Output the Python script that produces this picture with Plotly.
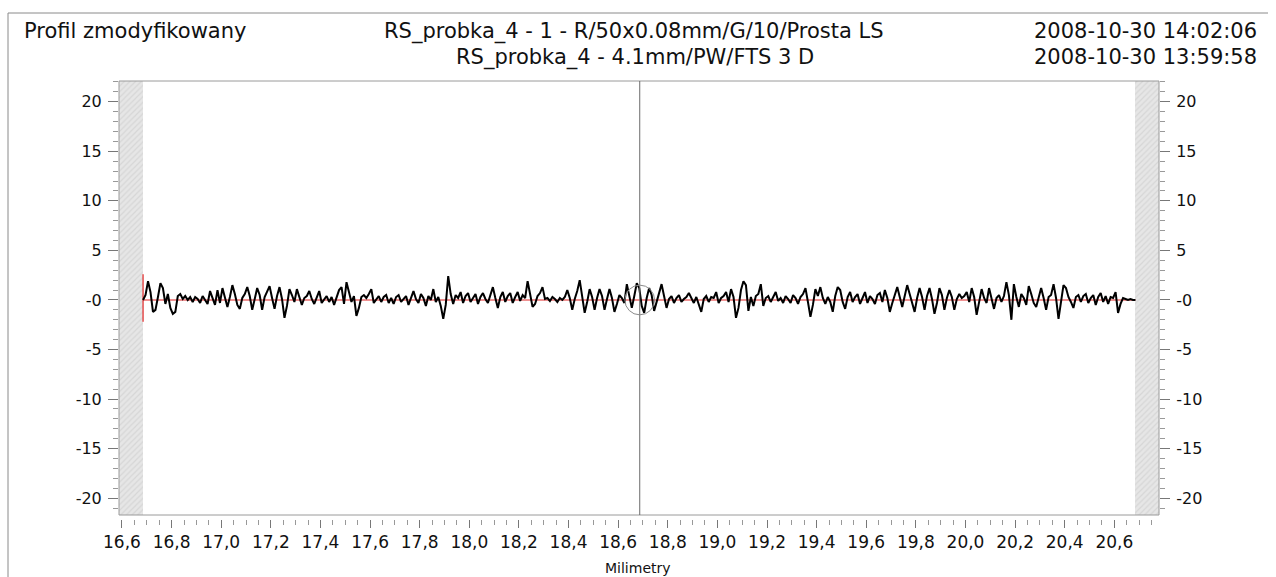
import plotly.graph_objects as go

# ---------------- data ----------------
X_START = 16.685          # mm, first profile sample
X_STEP = 0.01             # mm, sampling step
PROFILE = [
    0.0, 0.5, 1.9, 0.8, -1.2, -1.0, 0.3, 1.7, 1.2, -0.4,
    0.6, -0.8, -1.4, -1.2, 0.4, 0.6, 0.1, 0.4, 0.0, 0.3,
    -0.2, 0.3, 0.1, -0.3, 0.4, 0.0, -0.4, 0.9, 0.2, -0.5,
    1.0, -0.3, 1.2, 0.2, -0.7, 0.3, 1.5, 0.6, -0.5, -0.9,
    0.2, 0.6, 1.3, 0.4, -1.0, 0.1, 1.2, 0.5, -1.0, 0.3,
    0.8, 1.4, 0.2, -0.9, 0.4, 1.3, 0.1, -1.8, -0.6, 1.1,
    0.5, -0.2, 1.1, 0.3, -0.5, 0.2, 0.4, 0.9, 0.1, -0.4,
    0.3, 0.9, -0.3, 0.1, 0.4, -0.2, 0.3, -0.5, 0.2, 1.0,
    1.3, -0.4, 1.8, 0.9, -0.2, 0.4, -1.6, -0.8, 0.3, 0.5,
    0.2, 0.6, 1.1, -0.3, 0.1, 0.4, -0.2, 0.3, 0.5, -0.3,
    0.2, -0.4, 0.3, 0.5, -0.2, 0.1, 0.4, -0.5, 0.3, 0.9,
    0.1, -0.3, 0.6, 0.2, -0.6, 0.4, 0.0, 1.1, -0.2, 0.3,
    -0.6, -1.9, -0.5, 2.4, 0.6, -0.4, 0.5, 0.2, 0.8, -0.3,
    0.4, 0.7, -0.2, 0.2, 0.6, -0.4, 0.3, 0.7, 0.1, -0.3,
    0.5, 1.3, 0.2, -0.8, 0.3, 0.8, -0.2, 0.4, 0.7, -0.3,
    0.3, 0.8, -0.1, 0.5, 0.2, 1.9, 0.6, -0.7, -0.4, 0.4,
    0.7, 1.3, 0.1, 0.2, -0.1, 0.3, 0.1, -0.2, 0.2, 0.0,
    0.3, 1.0, 0.2, -1.0, 0.1, 0.9, 2.0, 0.4, -1.3, -0.2,
    1.1, 0.3, -1.0, 0.2, 1.1, 0.4, -1.0, 0.1, 1.1, 0.2,
    -1.2, -0.4, 0.5, 0.2, -0.3, 1.6, 0.5, -0.8, 0.4, 1.7,
    1.2, -0.6, -1.3, 0.2, 1.2, 0.5, -1.1, -0.2, 0.6, 1.6,
    0.4, -0.8, 0.1, 0.4, -0.3, 0.2, 0.5, -0.2, 0.1, 0.3,
    0.7, 0.2, -0.3, 0.3, -0.4, -1.2, 0.1, 0.4, -0.2, 0.3,
    0.2, 0.8, -0.3, 0.2, 0.4, 0.8, -0.2, 1.1, 0.3, -1.8,
    -0.8, 1.0, 1.9, 1.5, -1.1, 0.3, -0.6, 0.4, 0.6, 1.6,
    -0.6, 0.2, 0.4, -0.2, 0.3, 0.8, -0.1, 0.2, -0.3, 0.4,
    0.1, -0.3, 0.5, 0.2, -0.4, 0.3, 0.6, 1.2, -0.2, -1.7,
    -0.5, 1.1, 0.4, 1.3, 0.2, -0.4, 0.3, -0.2, -1.2, 0.4,
    1.3, 1.0, -0.2, -0.9, 0.3, 0.8, -0.2, 0.3, 0.6, -0.4,
    0.2, 0.8, -0.3, 0.4, 0.1, -0.4, 0.5, 0.7, -0.2, 1.0,
    0.2, -1.2, -0.3, 0.5, 1.3, 0.3, -0.7, 0.4, 1.5, 0.6,
    -0.4, -1.2, 0.2, 1.2, 0.3, -1.0, 0.4, 1.2, 0.1, -1.4,
    -0.3, 1.2, 0.5, -1.0, 0.2, 1.0, 0.3, -1.0, 0.1, 0.6,
    0.2, 0.4, 0.8, -0.2, 1.2, 0.3, -1.5, -0.3, 1.1, 0.2,
    -0.3, 1.2, 0.1, -0.9, 0.2, 0.5, -0.2, 0.4, 1.8, 0.5,
    -2.0, 1.6, 0.3, -0.7, 0.6, 0.2, -0.5, 1.4, 0.6, -0.3,
    -0.7, 0.4, 1.2, 0.2, -1.0, 0.3, 0.5, 1.6, 0.2, -1.9,
    -0.4, 1.5, 1.2, 0.3, -0.2, -0.8, 0.3, 0.5, -0.2, 0.4,
    0.6, -0.3, 0.2, 0.5, -0.5, 0.3, 0.7, -0.2, 0.4, -0.4,
    0.3, 0.2, 0.8, -1.3, -0.4, 0.2, 0.1, 0.0, 0.1, 0.0,
    0.0,
]
START_MARK = [-2.2, 2.6]   # red start marker extent
CURSOR_X = 18.687          # vertical cursor position (mm)

X_TICKS = [16.6, 16.8, 17.0, 17.2, 17.4, 17.6, 17.8, 18.0, 18.2, 18.4, 18.6,
           18.8, 19.0, 19.2, 19.4, 19.6, 19.8, 20.0, 20.2, 20.4, 20.6]
X_TICK_LABELS = ["16,6", "16,8", "17,0", "17,2", "17,4", "17,6", "17,8", "18,0",
                 "18,2", "18,4", "18,6", "18,8", "19,0", "19,2", "19,4", "19,6",
                 "19,8", "20,0", "20,2", "20,4", "20,6"]
Y_TICKS = [-20, -15, -10, -5, 0, 5, 10, 15, 20]
Y_TICK_LABELS = ["-20", "-15", "-10", "-5", "-0", "5", "10", "15", "20"]
X_RANGE = [16.588, 20.78]
Y_RANGE = [-21.7, 22.1]

TITLE_LEFT = "Profil zmodyfikowany"
TITLE_LINES = ["RS_probka_4 - 1 - R/50x0.08mm/G/10/Prosta LS",
               "RS_probka_4 - 4.1mm/PW/FTS 3 D"]
DATE_LINES = ["2008-10-30 14:02:06", "2008-10-30 13:59:58"]
X_TITLE = "Milimetry"

# ---------------- layout geometry (pixels) ----------------
W, H = 1276, 577
PL, PR, PT, PB = 119, 1159, 81, 519   # paper area
FRAME_BOTTOM = 515

def px_x(px):
    return (px - PL) / (PR - PL)

def px_y(py):
    return (PB - py) / (PB - PT)

FONT = "DejaVu Sans, Liberation Sans, Arial, sans-serif"
TXT = "#111111"

xs = [round(X_START + i * X_STEP, 4) for i in range(len(PROFILE))]

fig = go.Figure()

# hatched end zones
left_w = xs[0] - X_RANGE[0]
right_w = X_RANGE[1] - xs[-1]
fig.add_trace(go.Bar(
    x=[X_RANGE[0] + left_w / 2, xs[-1] + right_w / 2],
    y=[Y_RANGE[1] - Y_RANGE[0]] * 2,
    base=[Y_RANGE[0]] * 2,
    width=[left_w, right_w],
    marker=dict(color="#e4e4e4", line=dict(width=0),
                pattern=dict(shape="/", fgcolor="#c6c6c6", bgcolor="#e6e6e6",
                             size=4, solidity=0.3)),
    hoverinfo="skip", showlegend=False,
))

# red mean line + start marker
fig.add_trace(go.Scatter(x=[xs[0], xs[-1]], y=[0, 0], mode="lines",
                         line=dict(color="#e02424", width=1.2),
                         hoverinfo="skip", showlegend=False))
fig.add_trace(go.Scatter(x=[xs[0], xs[0]], y=START_MARK, mode="lines",
                         line=dict(color="#e02424", width=1.2),
                         hoverinfo="skip", showlegend=False))

# profile
fig.add_trace(go.Scatter(x=xs, y=PROFILE, mode="lines",
                         line=dict(color="#000000", width=2.0),
                         showlegend=False))

# dummy trace for right axis
fig.add_trace(go.Scatter(x=[xs[0]], y=[0], yaxis="y2", mode="markers",
                         marker=dict(opacity=0), hoverinfo="skip",
                         showlegend=False))

tickfont_y = dict(family=FONT, size=16, color=TXT)
tickfont_x = dict(family=FONT, size=17, color=TXT)
ydom = [(PB - FRAME_BOTTOM) / (PB - PT), 1]

common_y = dict(range=Y_RANGE, tickmode="array", tickvals=Y_TICKS,
                ticktext=Y_TICK_LABELS, ticks="outside", ticklen=10,
                tickcolor="#777", tickwidth=1, showgrid=False, zeroline=False,
                showline=False, tickfont=tickfont_y, ticklabelstandoff=3,
                minor=dict(tickmode="linear", tick0=0, dtick=1, ticks="outside",
                           ticklen=5, tickcolor="#999", showgrid=False))

fig.update_layout(
    width=W, height=H, autosize=False,
    margin=dict(l=PL, r=W - PR, t=PT, b=H - PB),
    paper_bgcolor="white", plot_bgcolor="white",
    font=dict(family=FONT, color=TXT),
    barmode="overlay", bargap=0,
    xaxis=dict(range=X_RANGE, tickmode="array", tickvals=X_TICKS,
               ticktext=X_TICK_LABELS, ticks="outside", ticklen=8,
               tickcolor="#777", showgrid=False, zeroline=False,
               showline=False, anchor="free", position=0,
               tickfont=tickfont_x,
               minor=dict(tickmode="linear", tick0=16.6, dtick=0.05,
                          ticks="outside", ticklen=5, tickcolor="#999",
                          showgrid=False)),
    yaxis=dict(domain=ydom, side="left", **common_y),
    yaxis2=dict(overlaying="y", side="right", anchor="x", **common_y),
)

shapes = [
    # plot frame
    dict(type="rect", xref="x domain", yref="y domain", x0=0, x1=1, y0=0, y1=1,
         line=dict(color="#9a9a9a", width=1), layer="above"),
    # cursor line
    dict(type="line", xref="x", yref="y domain", x0=CURSOR_X, x1=CURSOR_X,
         y0=0, y1=1, line=dict(color="#6a6a6a", width=1), layer="above"),
    # cursor circle
    dict(type="circle", xref="x", yref="y",
         x0=CURSOR_X - 0.06, x1=CURSOR_X + 0.06, y0=-1.5, y1=1.5,
         line=dict(color="#8a8a8a", width=1), layer="above"),
    # outer border (top + left)
    dict(type="path", xref="paper", yref="paper",
         path=f"M {px_x(8)} {px_y(600)} L {px_x(8)} {px_y(13)} L {px_x(1268)} {px_y(13)}",
         line=dict(color="#8a8a8a", width=1)),
]
fig.update_layout(shapes=shapes)

head_font = dict(family=FONT, size=21, color=TXT)
ann = [
    dict(text=TITLE_LEFT, x=px_x(22), y=px_y(31), xanchor="left"),
    dict(text=TITLE_LINES[0], x=px_x(634), y=px_y(31), xanchor="center"),
    dict(text=TITLE_LINES[1], x=px_x(635), y=px_y(57), xanchor="center"),
    dict(text=DATE_LINES[0], x=px_x(1259), y=px_y(31), xanchor="right"),
    dict(text=DATE_LINES[1], x=px_x(1259), y=px_y(57), xanchor="right"),
]
for a in ann:
    fig.add_annotation(xref="paper", yref="paper", yanchor="middle",
                       showarrow=False, font=head_font, **a)
fig.add_annotation(text=X_TITLE, xref="paper", yref="paper", x=px_x(638),
                   y=px_y(568), xanchor="center", yanchor="middle",
                   showarrow=False, font=dict(family=FONT, size=14, color=TXT))

fig.write_html("out.html", config={"displayModeBar": False})
